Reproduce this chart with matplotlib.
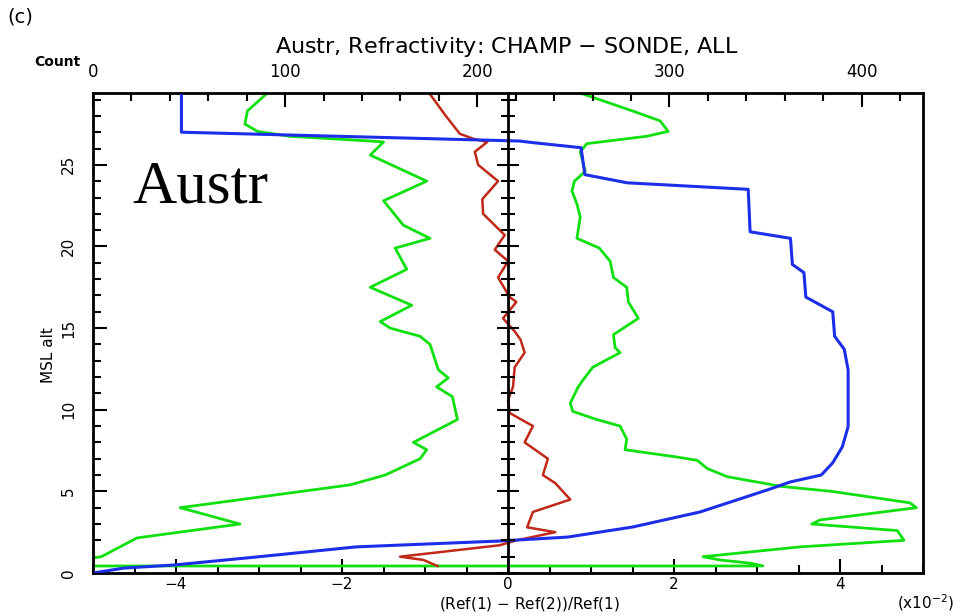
import matplotlib.pyplot as plt
from matplotlib.ticker import MultipleLocator

# mean difference profile (x10^-2) vs altitude (km)
mean_alt = [0.43, 0.8, 1.0, 1.7, 2.0, 2.5, 2.8, 3.74, 4.5, 5.5, 6.0, 7.0, 8.0, 9.0, 9.8,
            10.6, 11.4, 12.6, 13.5, 14.3, 14.8, 15.6, 16.6, 16.9, 18.1, 19.1, 19.8, 20.7,
            22.0, 22.9, 24.0, 25.0, 25.8, 26.4, 26.6, 26.9, 28.0, 29.4]
mean_diff = [-0.85, -1.02, -1.3, -0.1, 0.1, 0.57, 0.23, 0.3, 0.75, 0.57, 0.42, 0.48, 0.2, 0.3, 0.02,
             0.0, 0.06, 0.08, 0.2, 0.15, 0.08, -0.06, 0.1, 0.02, -0.12, 0.0, -0.16, -0.04,
             -0.3, -0.31, -0.12, -0.36, -0.4, -0.25, -0.42, -0.58, -0.75, -0.95]

# mean - std
lo_alt = [0.43, 1.0, 2.15, 3.0, 4.0, 5.4, 6.0, 7.0, 7.55, 8.0, 9.4, 10.8, 11.4, 11.95, 12.45,
          14.0, 14.5, 15.0, 15.4, 16.4, 17.5, 18.6, 19.9, 20.5, 21.3, 22.8, 24.0, 25.6, 26.4,
          26.45, 26.75, 27.05, 27.5, 28.3, 29.4]
lo_diff = [-5.6, -4.9, -4.47, -3.23, -3.95, -1.9, -1.48, -1.06, -0.98, -1.14, -0.61, -0.67, -0.86, -0.72, -0.84,
           -0.94, -1.06, -1.42, -1.54, -1.16, -1.66, -1.22, -1.36, -0.94, -1.26, -1.5, -0.98, -1.66, -1.5,
           -1.63, -2.63, -3.02, -3.17, -3.14, -2.9]

# mean + std
hi_alt = [0.43, 0.43, 0.6, 0.8, 1.0, 1.6, 2.0, 2.6, 3.0, 3.25, 4.0, 4.3, 5.0, 5.3, 5.9, 6.4,
          6.9, 7.1, 7.55, 8.2, 9.0, 9.4, 9.9, 10.4, 11.35, 11.8, 12.6, 13.5, 13.8, 14.6, 15.6,
          16.6, 17.5, 18.1, 19.1, 19.9, 20.5, 21.8, 22.6, 23.4, 24.0, 24.6, 25.8, 26.3, 26.75,
          27.05, 27.7, 28.3, 29.4]
hi_diff = [-5.6, 3.07, 2.92, 2.55, 2.35, 3.52, 4.77, 4.69, 3.66, 3.76, 4.92, 4.84, 3.9, 3.3, 2.64, 2.4,
           2.28, 2.04, 1.41, 1.43, 1.35, 1.07, 0.78, 0.75, 0.84, 0.9, 1.02, 1.35, 1.29, 1.27, 1.57,
           1.45, 1.43, 1.27, 1.23, 1.1, 0.83, 0.87, 0.83, 0.77, 0.8, 0.93, 0.87, 0.95, 1.67,
           1.93, 1.83, 1.5, 0.87]

# number of profiles
count_alt = [0, 0.3, 0.49, 0.98, 1.6, 1.96, 2.2, 2.82, 3.74, 5.09, 5.58, 6.0, 6.75, 7.73, 8.96,
             10.0, 12.45, 13.7, 14.5, 16.0, 16.9, 18.4, 18.9, 20.5, 20.9, 23.5, 23.9, 24.4,
             26.05, 26.36, 26.46, 27.0, 29.4]
count = [0, 16, 42, 85, 137, 212, 247, 281, 316, 351, 363, 379, 385, 390, 393,
         393, 393, 391, 386, 385, 371, 370, 364, 363, 342, 341, 278, 256,
         254, 229, 222, 46, 46]

green = '#10e010'
red = '#c02818'
blue = '#1c2ee8'

fig = plt.figure(figsize=(9.62, 6.16), dpi=100)
ax = fig.add_axes([0.0967, 0.0698, 0.8628, 0.7792])

ax.plot(lo_diff, lo_alt, color=green, lw=2)
ax.plot(hi_diff, hi_alt, color=green, lw=2)
ax.plot(mean_diff, mean_alt, color=red, lw=1.8)
ax.set_xlim(-5, 5)
ax.set_ylim(0, 29.4)

ax.xaxis.set_major_locator(MultipleLocator(2))
ax.xaxis.set_minor_locator(MultipleLocator(0.5))
ax.yaxis.set_major_locator(MultipleLocator(5))
ax.yaxis.set_minor_locator(MultipleLocator(1))
ax.tick_params(which='both', direction='in', right=True, width=1.5)
ax.tick_params(which='major', length=10, labelsize=11)
ax.tick_params(which='minor', length=6)
ax.tick_params(axis='x', pad=3)
ax.tick_params(axis='y', pad=12, labelrotation=90)
for lab in ax.get_yticklabels():
    lab.set_va('center')
for s in ax.spines.values():
    s.set_linewidth(2)

# count on the top axis
axc = ax.twiny()
axc.plot(count, count_alt, color=blue, lw=2.2)
axc.set_xlim(0, 432)
axc.xaxis.set_major_locator(MultipleLocator(100))
axc.xaxis.set_minor_locator(MultipleLocator(20))
axc.tick_params(which='both', direction='in', width=1.5)
axc.tick_params(which='major', length=10, labelsize=12, pad=9)
axc.tick_params(which='minor', length=6)

# axis drawn through zero
axz = ax.twinx()
axz.set_ylim(ax.get_ylim())
axz.spines['left'].set_position(('data', 0))
axz.spines['left'].set_linewidth(2)
axz.spines['right'].set_visible(False)
axz.yaxis.set_ticks_position('left')
axz.yaxis.set_major_locator(MultipleLocator(5))
axz.yaxis.set_minor_locator(MultipleLocator(1))
axz.tick_params(which='both', direction='inout', labelleft=False, width=1.5)
axz.tick_params(which='major', length=16)
axz.tick_params(which='minor', length=10)

fig.text(0.008, 0.972, '(c)', fontsize=14, va='center', ha='left')
fig.text(0.527, 0.924, 'Austr, Refractivity: CHAMP $-$ SONDE, ALL', fontsize=16, ha='center', va='center')
fig.text(0.06, 0.9, 'Count', fontsize=10, fontweight='bold', ha='center', va='center')
fig.text(0.05, 0.424, 'MSL alt', fontsize=11, rotation=90, ha='center', va='center')
fig.text(0.55, 0.019, '(Ref(1) $-$ Ref(2))/Ref(1)', fontsize=11, ha='center', va='center')
fig.text(0.962, 0.021, r'(x10$^{-2}$)', fontsize=11, ha='center', va='center')
fig.text(0.138, 0.672, 'Austr', fontsize=44, family='Liberation Serif', ha='left', va='baseline')

fig.savefig('out.png', dpi=100)
